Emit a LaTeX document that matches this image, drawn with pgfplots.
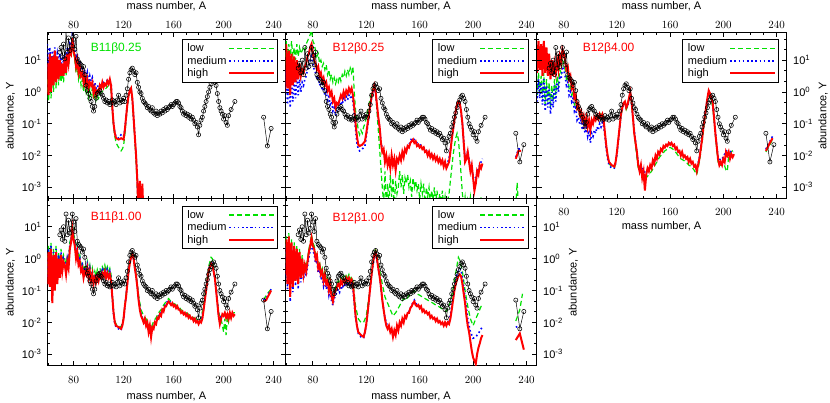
\documentclass[border=0pt]{standalone}
\usepackage{pgfplots}
\pgfplotsset{compat=1.18}
\usepackage{fontspec}
\setmainfont{Liberation Sans}
\definecolor{lowgreen}{RGB}{0,225,0}

\pgfplotsset{
  every axis/.append style={
    scale only axis,
    ymode=log, ymin=4.3e-4, ymax=74,
    xtick={80,120,160,200,240},
    minor xtick={60,70,...,250},
    ytick={1e-3,1e-2,1e-1,1,10},
    minor ytick={4.64e-4,2.15e-3,4.64e-3,2.15e-2,4.64e-2,0.215,0.464,2.15,4.64,21.5,46.4},
    tick align=inside,
    major tick length=5pt, minor tick length=2.5pt,
    axis line style={line width=1pt},
    tick style={black, line width=0.8pt},
    tick label style={font=\fontsize{11}{12}\selectfont, inner sep=0pt},
    label style={font=\fontsize{11}{12}\selectfont},
    unbounded coords=jump,
    legend cell align=left,
    legend plot pos=right,
    legend image post style={xscale=2.6},
    legend style={at={(0.97,0.96)}, anchor=north east, draw=black, line width=1pt,
      fill=white, font=\fontsize{11}{12}\selectfont, row sep=-1pt},
  },
  low line/.style={color=lowgreen, line width=1.2pt, dash pattern=on 5pt off 3pt},
  medium line/.style={color=blue, line width=1.6pt, dash pattern=on 1.6pt off 2.6pt},
  high line/.style={color=red, line width=2pt},
  obs line/.style={black, line width=0.5pt, mark=o, mark size=2.1pt,
    mark options={solid, line width=0.55pt}, forget plot},
}

\begin{document}
\begin{tikzpicture}
\path[use as bounding box] (0,0) rectangle (830pt,403pt);

% ---------- panel 1: B11 beta 0.25
\begin{axis}[at={(47.3pt,204pt)}, anchor=south west, width=238.2pt, height=166.5pt, xmin=59, xmax=249.5,
  xticklabel pos=right, xticklabel style={yshift=3.5pt},
  xlabel={mass number, A}, xlabel style={at={(axis description cs:0.5,1.16)}, anchor=center},
  yticklabels={10\textsuperscript{-3},10\textsuperscript{-2},10\textsuperscript{-1},10\textsuperscript{0},10\textsuperscript{1}},
  yticklabel pos=left, yticklabel style={xshift=-5.6pt},
  ylabel={abundance, Y}, ylabel style={at={(axis description cs:-0.155,0.5)}, anchor=center}]
\addplot[low line] coordinates {(59,2.5)(60,0.5)(61,6.3)(62,0.63)(63,7.9)(64,1.0)(65,10)(66,1.3)(67,7.9)(68,1.6)(69,6.3)(70,2.0)(71,5.0)(72,2.0)(73,7.9)(74,3.2)(75,10)(76,6.3)(77,16)(78,13)(79,40)(80,16)(81,10)(82,4.0)(83,6.3)(84,2.5)(85,4.0)(86,1.6)(87,2.5)(88,1.0)(89,2.0)(90,1.0)(91,1.6)(92,0.71)(93,1.3)(94,0.79)(95,1.3)(96,0.56)(97,0.89)(98,0.56)(99,0.79)(100,0.63)(102,1.0)(104,1.1)(106,1.3)(108,1.6)(110,1.1)(111,0.25)(112,0.079)(113,0.04)(114,0.025)(116,0.018)(118,0.014)(119,0.016)(120,0.02)(121,0.045)(122,0.13)(123,0.32)(124,0.71)(125,1.0)(126,1.3)(127,0.56)(128,0.13)(129,0.032)(130,0.0063)(131,0.001)(132,1e-4)};
\addlegendentry{low}
\addplot[medium line] coordinates {(59,32)(60,4.0)(61,25)(62,5.0)(63,20)(64,6.3)(65,25)(66,7.9)(67,16)(68,7.9)(69,16)(70,7.9)(71,13)(72,7.9)(73,16)(74,10)(75,25)(76,16)(77,32)(78,25)(79,63)(80,32)(81,20)(82,10)(83,16)(84,6.3)(85,10)(86,5.0)(87,6.3)(88,3.2)(89,5.0)(90,2.5)(91,4.0)(92,2.0)(93,3.2)(94,2.2)(95,2.8)(96,1.4)(97,2.0)(98,1.3)(99,1.6)(100,1.4)(102,1.8)(104,2.0)(106,2.2)(108,2.5)(110,2.0)(111,0.32)(112,0.1)(113,0.05)(114,0.04)(116,0.035)(118,0.045)(120,0.04)(121,0.063)(122,0.16)(123,0.4)(124,0.79)(125,1.1)(126,1.3)(127,0.63)(128,0.16)(129,0.04)(130,0.01)(131,0.0016)(132,1e-4)};
\addlegendentry{medium}
\addplot[high line] coordinates {(59,7.9)(60,0.79)(61,16)(62,1.0)(63,13)(64,1.6)(65,20)(66,2.0)(67,13)(68,2.5)(69,10)(70,3.2)(71,7.9)(72,3.2)(73,13)(74,4.0)(75,16)(76,7.9)(77,20)(78,16)(79,50)(80,20)(81,13)(82,6.3)(83,10)(84,4.0)(85,6.3)(86,3.2)(87,4.0)(88,2.0)(89,3.2)(90,1.6)(91,2.5)(92,1.3)(93,2.0)(94,1.6)(95,2.0)(96,0.89)(97,1.3)(98,0.79)(99,1.1)(100,1.0)(101,1.6)(102,1.3)(103,2.0)(104,1.4)(105,1.8)(106,1.6)(107,2.2)(108,1.8)(109,2.5)(110,1.6)(111,0.32)(112,0.1)(113,0.05)(114,0.035)(116,0.032)(118,0.035)(120,0.032)(121,0.063)(122,0.16)(123,0.4)(124,0.79)(125,1.1)(126,1.3)(127,0.63)(128,0.16)(129,0.04)(130,0.01)(131,0.0016)(132,1e-4)(133,0.0016)(134,1e-4)(135,0.0013)(136,1e-4)};
\addlegendentry{high}
\addplot[obs line] coordinates {(69,17.7)(70,25)(71,12.6)(72,32)(73,11)(74,79)(75,17.7)(76,50)(77,20)(78,28)(79,79)(80,45)(81,22)(82,56)(83,11)(84,8.9)(85,7.9)(86,7.1)(87,5.0)(88,6.3)(89,3.5)(90,1.6)(91,1.1)(92,0.89)(93,0.63)(94,0.50)(95,0.35)(96,0.25)(97,0.35)(98,0.63)(99,0.89)(100,1.0)(101,1.1)(102,0.89)(103,0.79)(104,0.63)(105,0.50)(106,0.56)(107,0.45)(108,0.50)(109,0.40)(110,0.45)(111,0.56)(112,0.45)(113,0.50)(114,0.40)(115,0.56)(116,0.79)(117,0.45)(118,0.56)(119,0.50)(120,0.63)(121,0.50)(122,0.79)(123,1.26)(124,2.5)(125,4.0)(126,5.0)(127,5.6)(128,4.5)(129,3.5)(130,4.0)(131,2.0)(132,1.4)(133,1.0)(134,0.89)(135,0.63)(136,0.50)(137,0.45)(138,0.40)(139,0.32)(140,0.35)(141,0.28)(142,0.25)(143,0.32)(144,0.22)(145,0.20)(146,0.25)(147,0.18)(148,0.22)(149,0.20)(150,0.25)(151,0.22)(152,0.28)(153,0.25)(154,0.32)(155,0.28)(156,0.32)(157,0.35)(158,0.40)(159,0.35)(160,0.40)(161,0.45)(162,0.50)(163,0.50)(164,0.45)(165,0.35)(166,0.32)(167,0.25)(168,0.20)(169,0.22)(170,0.18)(171,0.20)(172,0.16)(173,0.18)(174,0.14)(175,0.16)(176,0.13)(177,0.10)(178,0.11)(179,0.079)(180,0.045)(181,0.089)(182,0.13)(183,0.16)(184,0.25)(185,0.35)(186,0.50)(187,0.71)(188,1.0)(189,1.4)(190,1.8)(191,2.2)(192,2.5)(193,2.0)(194,1.6)(195,0.89)(196,0.50)(197,0.32)(198,0.25)(199,0.20)(200,0.14)(201,0.18)(202,0.11)(203,0.089)(204,0.18)(206,0.28)(209,0.50)(220,nan)(232,0.16)(235,0.020)(238,0.071)};
\node[anchor=west, font=\fontsize{12}{14}\selectfont, text=lowgreen] at (axis description cs:0.168,0.907) {B11β0.25};
\end{axis}

% ---------- panel 2: B12 beta 0.25
\begin{axis}[at={(285.5pt,204pt)}, anchor=south west, width=251pt, height=166.5pt, xmin=59.5, xmax=247.5,
  xticklabel pos=right, xticklabel style={yshift=3.5pt},
  xlabel={mass number, A}, xlabel style={at={(axis description cs:0.5,1.16)}, anchor=center},
  yticklabels={}]
\addplot[low line] coordinates {(58,32)(59,6.3)(60,40)(61,7.9)(62,32)(63,10)(64,40)(65,13)(66,25)(67,10)(68,32)(69,13)(70,25)(71,16)(72,20)(73,25)(74,20)(75,32)(76,40)(77,50)(78,63)(79,89)(80,40)(81,32)(82,20)(83,13)(84,16)(85,7.9)(86,10)(87,6.3)(88,7.9)(89,5.0)(90,7.1)(91,3.5)(92,5.0)(93,2.5)(94,3.5)(95,2.0)(96,2.8)(97,1.8)(98,2.5)(99,2.0)(100,3.2)(101,2.2)(102,3.5)(103,2.8)(104,4.5)(105,3.2)(106,5.0)(107,3.5)(108,5.6)(109,4.0)(110,6.3)(111,1.0)(112,0.25)(113,0.13)(114,0.063)(115,0.045)(116,0.063)(117,0.05)(118,0.079)(119,0.1)(120,0.16)(121,0.25)(122,0.4)(123,0.63)(124,1.0)(125,1.3)(126,1.6)(127,1.0)(128,0.25)(129,0.063)(130,0.016)(131,0.004)(132,0.001)(133,3.2e-4)(134,0.0032)(135,2.5e-4)(136,0.0013)(137,3.2e-4)(138,0.0025)(139,5e-4)(140,0.002)(141,2.5e-4)(142,0.0016)(143,6.3e-4)(144,0.001)(145,0.0032)(146,0.001)(147,0.0025)(148,6.3e-4)(149,0.002)(150,0.0013)(151,0.0025)(152,0.001)(153,0.0016)(154,5e-4)(155,0.002)(156,0.001)(157,0.0016)(158,7.9e-4)(159,0.0013)(160,4e-4)(161,0.0013)(162,6.3e-4)(163,0.0013)(164,2.5e-4)(165,0.001)(166,5e-4)(167,0.001)(168,3.2e-4)(169,7.9e-4)(170,4e-4)(171,0.001)(172,3.2e-4)(173,7.9e-4)(174,2.5e-4)(175,6.3e-4)(176,3.2e-4)(177,7.9e-4)(178,2.5e-4)(179,5e-4)(180,1.6e-4)(181,4e-4)(182,6.3e-4)(183,0.0016)(184,0.004)(185,0.01)(186,0.02)(187,0.035)(188,0.05)(189,0.032)(190,0.01)(191,0.0025)(192,6.3e-4)(193,2.5e-4)(194,5e-4)(195,1.6e-4)(196,4e-4)(197,2.5e-4)(198,5e-4)(199,1.6e-4)(200,3.2e-4)(201,1e-4)(202,2.5e-4)(203,1e-4)(204,4e-4)(205,1.3e-4)(206,5e-4)(207,2.5e-4)(220,nan)(232,2.5e-4)(233,0.0014)(234,2.5e-4)};
\addlegendentry{low}
\addplot[medium line] coordinates {(58,4.0)(59,0.5)(60,5.0)(61,0.4)(62,4.0)(63,0.32)(64,3.2)(65,0.5)(66,2.5)(67,0.63)(68,3.2)(69,0.79)(70,2.5)(71,1.0)(72,2.0)(73,1.6)(74,2.5)(75,3.2)(76,5.0)(77,6.3)(78,10)(79,13)(80,7.9)(81,5.0)(82,4.0)(83,2.5)(84,3.2)(85,1.6)(86,2.0)(87,1.1)(88,1.4)(89,0.79)(90,1.0)(91,0.56)(92,0.71)(93,0.4)(94,0.5)(95,0.25)(96,0.32)(97,0.18)(98,0.25)(99,0.25)(100,0.35)(101,0.5)(102,0.4)(103,0.63)(104,0.5)(105,0.71)(106,0.56)(107,0.79)(108,0.63)(109,0.79)(110,0.5)(111,0.2)(112,0.063)(113,0.025)(114,0.016)(115,0.014)(117,0.016)(119,0.02)(120,0.04)(121,0.079)(122,0.18)(123,0.35)(124,0.63)(125,1.0)(126,1.4)(127,0.89)(128,0.35)(129,0.14)(130,0.079)(131,0.028)(132,0.016)(134,0.0079)(136,0.0063)(138,0.005)(140,0.0063)(142,0.0045)(144,0.0079)(146,0.0089)(148,0.011)(150,0.016)(152,0.022)(154,0.035)(156,0.032)(158,0.025)(160,0.022)(162,0.02)(164,0.016)(166,0.013)(168,0.011)(170,0.01)(172,0.0089)(174,0.0079)(176,0.0071)(178,0.0056)(180,0.005)(182,0.0079)(184,0.035)(186,0.14)(188,0.4)(189,0.5)(190,0.45)(192,0.1)(194,0.0079)(196,0.014)(198,0.004)(200,0.0025)(202,0.002)(204,0.004)(206,0.0063)(207,0.0079)(220,nan)(232,0.0089)(234,0.016)(236,0.016)};
\addlegendentry{medium}
\addplot[high line] coordinates {(58,25)(59,1.0)(60,32)(61,1.3)(62,20)(63,0.79)(64,16)(65,1.6)(66,13)(67,2.0)(68,10)(69,2.5)(70,7.9)(71,3.2)(72,5.0)(73,4.0)(74,6.3)(75,7.9)(76,13)(77,16)(78,25)(79,32)(80,16)(81,10)(82,7.9)(83,5.0)(84,6.3)(85,3.2)(86,4.0)(87,2.2)(88,2.8)(89,1.6)(90,2.0)(91,1.1)(92,1.4)(93,0.79)(94,1.0)(95,0.5)(96,0.63)(97,0.32)(98,0.45)(99,0.4)(100,0.56)(101,0.79)(102,0.63)(103,1.0)(104,0.71)(105,1.1)(106,0.89)(107,1.3)(108,1.0)(109,1.3)(110,0.79)(111,0.32)(112,0.1)(113,0.04)(114,0.022)(115,0.02)(117,0.022)(119,0.028)(120,0.05)(121,0.1)(122,0.2)(123,0.4)(124,0.71)(125,1.1)(126,1.6)(127,1.0)(128,0.4)(129,0.16)(130,0.079)(131,0.025)(132,0.013)(133,0.016)(134,0.0063)(135,0.01)(136,0.005)(137,0.0079)(138,0.004)(139,0.01)(140,0.005)(141,0.0079)(142,0.0035)(143,0.0079)(144,0.0063)(145,0.01)(146,0.0071)(147,0.013)(148,0.0089)(149,0.016)(150,0.013)(151,0.02)(152,0.018)(153,0.025)(154,0.028)(155,0.032)(156,0.025)(157,0.028)(158,0.02)(159,0.022)(160,0.018)(161,0.02)(162,0.016)(163,0.018)(164,0.013)(165,0.014)(166,0.01)(167,0.013)(168,0.0089)(169,0.011)(170,0.0079)(171,0.01)(172,0.0071)(173,0.0089)(174,0.0063)(175,0.0079)(176,0.0056)(177,0.0071)(178,0.0045)(179,0.0063)(180,0.004)(181,0.005)(182,0.0063)(183,0.013)(184,0.032)(185,0.063)(186,0.13)(187,0.25)(188,0.4)(189,0.5)(190,0.45)(191,0.25)(192,0.1)(193,0.025)(194,0.0063)(195,0.0079)(196,0.013)(197,0.0063)(198,0.0032)(199,0.005)(200,0.002)(201,7.9e-4)(202,0.0013)(203,0.0032)(204,0.0025)(205,0.005)(206,0.004)(207,0.0056)(220,nan)(232,0.0079)(234,0.014)(236,0.014)};
\addlegendentry{high}
\addplot[obs line] coordinates {(69,5.6)(70,7.9)(71,4.0)(72,10)(73,3.5)(74,25)(75,5.6)(76,16)(77,6.3)(78,8.9)(79,25)(80,14)(81,7.1)(82,18)(83,3.5)(84,2.8)(85,2.5)(86,2.2)(87,1.6)(88,2.0)(89,1.1)(90,0.50)(91,0.35)(92,0.28)(93,0.20)(94,0.16)(95,0.11)(96,0.079)(97,0.11)(98,0.20)(99,0.28)(100,0.32)(101,0.35)(102,0.28)(103,0.25)(104,0.20)(105,0.16)(106,0.18)(107,0.14)(108,0.16)(109,0.13)(110,0.14)(111,0.18)(112,0.14)(113,0.16)(114,0.13)(115,0.18)(116,0.25)(117,0.14)(118,0.18)(119,0.16)(120,0.20)(121,0.16)(122,0.25)(123,0.40)(124,0.79)(125,1.26)(126,1.6)(127,1.8)(128,1.4)(129,1.1)(130,1.26)(131,0.63)(132,0.45)(133,0.32)(134,0.28)(135,0.20)(136,0.16)(137,0.14)(138,0.13)(139,0.10)(140,0.11)(141,0.089)(142,0.079)(143,0.10)(144,0.071)(145,0.063)(146,0.079)(147,0.056)(148,0.071)(149,0.063)(150,0.079)(151,0.071)(152,0.089)(153,0.079)(154,0.10)(155,0.089)(156,0.10)(157,0.11)(158,0.13)(159,0.11)(160,0.13)(161,0.14)(162,0.16)(163,0.16)(164,0.14)(165,0.11)(166,0.10)(167,0.079)(168,0.063)(169,0.071)(170,0.056)(171,0.063)(172,0.050)(173,0.056)(174,0.045)(175,0.050)(176,0.040)(177,0.032)(178,0.035)(179,0.025)(180,0.014)(181,0.028)(182,0.040)(183,0.050)(184,0.079)(185,0.11)(186,0.16)(187,0.22)(188,0.32)(189,0.45)(190,0.56)(191,0.71)(192,0.79)(193,0.63)(194,0.50)(195,0.28)(196,0.16)(197,0.10)(198,0.079)(199,0.063)(200,0.045)(201,0.056)(202,0.035)(203,0.028)(204,0.056)(206,0.089)(209,0.16)(220,nan)(232,0.050)(235,0.0063)(238,0.022)};
\node[anchor=west, font=\fontsize{12}{14}\selectfont, text=red] at (axis description cs:0.174,0.907) {B12β0.25};
\end{axis}

% ---------- panel 3: B12 beta 4.00
\begin{axis}[at={(536.5pt,204pt)}, anchor=south west, width=250pt, height=166.5pt, xmin=59.5, xmax=247.5,
  xticklabel pos=right, xticklabel style={yshift=3.5pt},
  xlabel={mass number, A}, xlabel style={at={(axis description cs:0.5,1.16)}, anchor=center},
  yticklabels={10\textsuperscript{-3},10\textsuperscript{-2},10\textsuperscript{-1},10\textsuperscript{0},10\textsuperscript{1}},
  yticklabel pos=right, yticklabel style={xshift=6.5pt},
  ylabel={abundance, Y}, ylabel style={at={(axis description cs:1.146,0.5)}, anchor=center}]
\addplot[low line] coordinates {(59,5.0)(60,0.79)(61,4.0)(62,1.0)(63,3.2)(64,0.63)(65,4.0)(66,0.4)(67,2.5)(68,0.5)(69,2.0)(70,0.32)(71,1.6)(72,0.5)(73,2.5)(74,0.79)(75,3.2)(76,1.6)(77,5.0)(78,4.0)(79,10)(80,7.9)(81,5.0)(82,2.5)(83,3.2)(84,1.3)(85,1.6)(86,0.79)(87,1.0)(88,0.4)(89,0.5)(90,0.25)(91,0.32)(92,0.18)(93,0.22)(94,0.13)(95,0.16)(96,0.1)(97,0.14)(98,0.089)(99,0.13)(100,0.079)(101,0.13)(102,0.11)(103,0.18)(104,0.14)(105,0.2)(106,0.16)(107,0.22)(108,0.18)(109,0.22)(110,0.14)(111,0.045)(112,0.018)(113,0.0089)(114,0.0056)(116,0.0045)(118,0.004)(119,0.0056)(120,0.011)(121,0.028)(122,0.071)(123,0.18)(124,0.28)(125,0.4)(126,0.45)(127,0.28)(128,0.35)(129,0.56)(130,0.89)(131,0.45)(132,0.14)(134,0.02)(136,0.004)(138,0.0035)(140,0.0025)(142,0.002)(144,0.0025)(146,0.0032)(148,0.0045)(150,0.0063)(152,0.0089)(154,0.011)(156,0.014)(158,0.016)(160,0.018)(162,0.016)(164,0.013)(166,0.01)(168,0.0079)(170,0.0071)(172,0.0063)(174,0.005)(176,0.0045)(178,0.0035)(180,0.0025)(182,0.0063)(184,0.025)(186,0.13)(188,0.5)(189,0.79)(190,0.71)(192,0.35)(194,0.045)(196,0.0063)(198,0.005)(200,0.0063)(202,0.0035)(203,0.0032)(204,0.01)(206,0.013)(208,0.016)(220,nan)(232,0.013)(235,0.022)(237,0.032)};
\addlegendentry{low}
\addplot[medium line] coordinates {(59,3.2)(60,0.5)(61,2.5)(62,0.63)(63,2.0)(64,0.4)(65,2.5)(66,0.25)(67,1.6)(68,0.32)(69,1.3)(70,0.2)(71,1.0)(72,0.32)(73,1.6)(74,0.5)(75,2.0)(76,1.0)(77,3.2)(78,2.5)(79,6.3)(80,5.0)(81,3.2)(82,1.6)(83,2.0)(84,0.79)(85,1.0)(86,0.5)(87,0.63)(88,0.25)(89,0.32)(90,0.13)(91,0.16)(92,0.1)(93,0.13)(94,0.063)(95,0.1)(96,0.05)(97,0.079)(98,0.04)(99,0.063)(100,0.025)(101,0.05)(102,0.04)(103,0.063)(104,0.05)(105,0.079)(106,0.063)(107,0.1)(108,0.079)(109,0.11)(110,0.079)(111,0.04)(112,0.016)(113,0.0079)(114,0.005)(116,0.004)(118,0.004)(119,0.0056)(120,0.011)(121,0.028)(122,0.071)(123,0.18)(124,0.28)(125,0.4)(126,0.45)(127,0.32)(128,0.35)(129,0.56)(130,0.89)(131,0.45)(132,0.16)(134,0.028)(136,0.0056)(138,0.005)(140,0.0032)(142,0.0028)(144,0.0035)(146,0.0045)(148,0.0063)(150,0.0089)(152,0.013)(154,0.016)(156,0.02)(158,0.022)(160,0.025)(162,0.022)(164,0.018)(166,0.014)(168,0.011)(170,0.01)(172,0.0089)(174,0.0071)(176,0.0063)(178,0.005)(180,0.0035)(182,0.0089)(184,0.035)(186,0.18)(188,0.56)(189,0.79)(190,0.79)(192,0.4)(194,0.056)(196,0.0089)(198,0.0071)(200,0.0089)(202,0.014)(204,0.014)(206,0.013)(208,0.013)(220,nan)(232,0.016)(235,0.028)(237,0.04)};
\addlegendentry{medium}
\addplot[high line] coordinates {(59,40)(60,4.0)(61,40)(62,5.0)(63,32)(64,3.2)(65,40)(66,4.0)(67,25)(68,3.2)(69,16)(70,2.5)(71,10)(72,3.2)(73,7.9)(74,4.0)(75,10)(76,5.0)(77,13)(78,7.9)(79,22)(80,16)(81,10)(82,5.0)(83,6.3)(84,2.5)(85,3.2)(86,1.3)(87,1.6)(88,0.63)(89,0.79)(90,0.32)(91,0.4)(92,0.2)(93,0.25)(94,0.13)(95,0.18)(96,0.1)(97,0.16)(98,0.079)(99,0.13)(100,0.063)(101,0.13)(102,0.1)(103,0.16)(104,0.13)(105,0.18)(106,0.14)(107,0.2)(108,0.16)(109,0.2)(110,0.13)(111,0.05)(112,0.02)(113,0.01)(114,0.0063)(116,0.005)(118,0.0045)(119,0.0063)(120,0.013)(121,0.032)(122,0.079)(123,0.2)(124,0.32)(125,0.45)(126,0.5)(127,0.32)(128,0.4)(129,0.63)(130,1.0)(131,0.5)(132,0.16)(133,0.05)(134,0.025)(135,0.013)(136,0.005)(137,0.0032)(138,0.005)(139,0.002)(140,0.0032)(141,7.9e-4)(142,0.0025)(143,0.004)(144,0.0032)(145,0.005)(146,0.004)(147,0.0071)(148,0.0056)(149,0.01)(150,0.0079)(151,0.013)(152,0.011)(153,0.016)(154,0.014)(155,0.02)(156,0.018)(157,0.022)(158,0.02)(159,0.025)(160,0.022)(161,0.025)(162,0.02)(163,0.022)(164,0.016)(165,0.018)(166,0.013)(167,0.014)(168,0.01)(169,0.013)(170,0.0089)(171,0.01)(172,0.0079)(173,0.0089)(174,0.0063)(175,0.0079)(176,0.0056)(177,0.0063)(178,0.0045)(179,0.005)(180,0.0032)(181,0.005)(182,0.0079)(183,0.016)(184,0.032)(185,0.079)(186,0.16)(187,0.32)(188,0.63)(189,1.1)(190,0.89)(191,0.63)(192,0.45)(193,0.16)(194,0.05)(195,0.02)(196,0.0079)(197,0.005)(198,0.0063)(199,0.005)(200,0.0079)(201,0.0063)(202,0.013)(203,0.01)(204,0.013)(205,0.0079)(206,0.011)(207,0.0089)(208,0.011)(220,nan)(232,0.014)(235,0.025)(237,0.035)};
\addlegendentry{high}
\addplot[obs line] coordinates {(69,5.6)(70,7.9)(71,4.0)(72,10)(73,3.5)(74,25)(75,5.6)(76,16)(77,6.3)(78,8.9)(79,25)(80,14)(81,7.1)(82,18)(83,3.5)(84,2.8)(85,2.5)(86,2.2)(87,1.6)(88,2.0)(89,1.1)(90,0.50)(91,0.35)(92,0.28)(93,0.20)(94,0.16)(95,0.11)(96,0.079)(97,0.11)(98,0.20)(99,0.28)(100,0.32)(101,0.35)(102,0.28)(103,0.25)(104,0.20)(105,0.16)(106,0.18)(107,0.14)(108,0.16)(109,0.13)(110,0.14)(111,0.18)(112,0.14)(113,0.16)(114,0.13)(115,0.18)(116,0.25)(117,0.14)(118,0.18)(119,0.16)(120,0.20)(121,0.16)(122,0.25)(123,0.40)(124,0.79)(125,1.26)(126,1.6)(127,1.8)(128,1.4)(129,1.1)(130,1.26)(131,0.63)(132,0.45)(133,0.32)(134,0.28)(135,0.20)(136,0.16)(137,0.14)(138,0.13)(139,0.10)(140,0.11)(141,0.089)(142,0.079)(143,0.10)(144,0.071)(145,0.063)(146,0.079)(147,0.056)(148,0.071)(149,0.063)(150,0.079)(151,0.071)(152,0.089)(153,0.079)(154,0.10)(155,0.089)(156,0.10)(157,0.11)(158,0.13)(159,0.11)(160,0.13)(161,0.14)(162,0.16)(163,0.16)(164,0.14)(165,0.11)(166,0.10)(167,0.079)(168,0.063)(169,0.071)(170,0.056)(171,0.063)(172,0.050)(173,0.056)(174,0.045)(175,0.050)(176,0.040)(177,0.032)(178,0.035)(179,0.025)(180,0.014)(181,0.028)(182,0.040)(183,0.050)(184,0.079)(185,0.11)(186,0.16)(187,0.22)(188,0.32)(189,0.45)(190,0.56)(191,0.71)(192,0.79)(193,0.63)(194,0.50)(195,0.28)(196,0.16)(197,0.10)(198,0.079)(199,0.063)(200,0.045)(201,0.056)(202,0.035)(203,0.028)(204,0.056)(206,0.089)(209,0.16)(220,nan)(232,0.050)(235,0.0063)(238,0.022)};
\node[anchor=west, font=\fontsize{12}{14}\selectfont, text=red] at (axis description cs:0.171,0.907) {B12β4.00};
\end{axis}
% bottom tick labels of panel 3
\begin{axis}[at={(536.5pt,204pt)}, anchor=south west, width=250pt, height=166.5pt, xmin=59.5, xmax=247.5,
  yticklabels={}, xticklabel pos=left, xticklabel style={yshift=-9pt},
  xlabel={mass number, A}, xlabel style={at={(axis description cs:0.5,-0.162)}, anchor=center}]
\addplot[draw=none, forget plot] coordinates {(100,1) (120,1)};
\end{axis}

% ---------- panel 4: B11 beta 1.00
\begin{axis}[at={(47.3pt,37pt)}, anchor=south west, width=238.2pt, height=167pt, xmin=59, xmax=249.5,
  xticklabel pos=left, xticklabel style={yshift=-10pt},
  xlabel={mass number, A}, xlabel style={at={(axis description cs:0.5,-0.183)}, anchor=center},
  yticklabels={10\textsuperscript{-3},10\textsuperscript{-2},10\textsuperscript{-1},10\textsuperscript{0},10\textsuperscript{1}},
  yticklabel pos=left, yticklabel style={xshift=-5.6pt},
  ylabel={abundance, Y}, ylabel style={at={(axis description cs:-0.155,0.5)}, anchor=center}]
\addplot[low line] coordinates {(58,3.2)(59,0.32)(60,2.5)(61,0.25)(62,3.2)(63,0.1)(64,2.0)(65,0.2)(66,2.5)(67,0.32)(68,1.6)(69,0.5)(70,2.0)(71,0.63)(72,1.3)(73,1.0)(74,0.5)(75,1.3)(76,0.79)(77,3.2)(78,5.0)(79,13)(80,6.3)(81,4.0)(82,1.6)(83,2.5)(84,1.0)(85,1.3)(86,0.63)(87,0.79)(88,0.4)(89,0.63)(90,0.5)(91,0.79)(92,0.4)(93,0.63)(94,0.32)(95,0.5)(96,0.25)(97,0.4)(98,0.28)(99,0.45)(100,0.32)(101,0.5)(102,0.4)(103,0.56)(104,0.45)(105,0.63)(106,0.4)(107,0.56)(108,0.4)(109,0.5)(110,0.32)(111,0.079)(112,0.022)(113,0.011)(114,0.0089)(116,0.0079)(118,0.0071)(120,0.014)(122,0.079)(124,0.5)(126,1.3)(127,1.6)(128,1.1)(130,0.35)(132,0.071)(134,0.025)(136,0.016)(138,0.013)(140,0.0079)(142,0.0063)(144,0.011)(146,0.014)(148,0.02)(150,0.025)(152,0.035)(154,0.045)(156,0.056)(158,0.045)(160,0.04)(162,0.035)(164,0.032)(166,0.025)(168,0.022)(170,0.02)(172,0.018)(174,0.016)(176,0.014)(178,0.013)(180,0.011)(182,0.014)(184,0.035)(186,0.14)(188,0.56)(190,1.1)(191,1.0)(192,0.56)(194,0.13)(196,0.02)(198,0.013)(200,0.005)(201,0.013)(202,0.004)(203,0.016)(204,0.01)(206,0.018)(208,0.02)(209,0.02)(220,nan)(232,0.05)(234,0.071)(236,0.089)(238,0.11)};
\addlegendentry{low}
\addplot[medium line] coordinates {(58,2.5)(59,0.25)(60,2.0)(61,0.2)(62,2.5)(63,0.063)(64,1.6)(65,0.16)(66,2.0)(67,0.25)(68,1.3)(69,0.4)(70,1.6)(71,0.5)(72,1.0)(73,0.79)(74,0.4)(75,1.0)(76,0.63)(77,2.5)(78,4.0)(79,10)(80,5.0)(81,3.2)(82,1.3)(83,2.0)(84,0.79)(85,1.0)(86,0.5)(87,0.63)(88,0.32)(89,0.5)(90,0.4)(91,0.63)(92,0.32)(93,0.5)(94,0.25)(95,0.4)(96,0.2)(97,0.32)(98,0.22)(99,0.35)(100,0.25)(101,0.4)(102,0.32)(103,0.45)(104,0.35)(105,0.5)(106,0.32)(107,0.45)(108,0.32)(109,0.4)(110,0.25)(111,0.063)(112,0.018)(113,0.0089)(114,0.0071)(116,0.0063)(118,0.0056)(120,0.013)(122,0.071)(124,0.45)(126,1.1)(127,1.3)(128,1.0)(130,0.32)(132,0.056)(134,0.018)(136,0.011)(138,0.0089)(140,0.0056)(142,0.0045)(144,0.0079)(146,0.011)(148,0.016)(150,0.02)(152,0.028)(154,0.04)(156,0.05)(158,0.04)(160,0.035)(162,0.032)(164,0.028)(166,0.022)(168,0.02)(170,0.018)(172,0.016)(174,0.014)(176,0.013)(178,0.011)(180,0.01)(182,0.011)(184,0.028)(186,0.11)(188,0.45)(190,0.79)(191,0.71)(192,0.45)(194,0.11)(196,0.018)(198,0.014)(200,0.018)(202,0.016)(204,0.014)(206,0.016)(208,0.018)(209,0.02)(220,nan)(232,0.05)(234,0.056)(236,0.079)(238,0.11)};
\addlegendentry{medium}
\addplot[high line] coordinates {(58,2.0)(59,0.16)(60,1.6)(61,0.13)(62,2.0)(63,0.04)(64,1.3)(65,0.1)(66,1.6)(67,0.16)(68,1.0)(69,0.25)(70,1.3)(71,0.4)(72,0.79)(73,0.63)(74,0.32)(75,0.79)(76,0.5)(77,2.0)(78,3.2)(79,8.9)(80,4.0)(81,2.5)(82,1.0)(83,1.6)(84,0.63)(85,0.79)(86,0.4)(87,0.5)(88,0.25)(89,0.4)(90,0.32)(91,0.5)(92,0.25)(93,0.4)(94,0.2)(95,0.32)(96,0.16)(97,0.25)(98,0.18)(99,0.28)(100,0.2)(101,0.32)(102,0.25)(103,0.35)(104,0.28)(105,0.4)(106,0.25)(107,0.35)(108,0.25)(109,0.32)(110,0.2)(111,0.063)(112,0.02)(113,0.01)(114,0.0079)(116,0.0071)(118,0.0063)(119,0.0079)(120,0.013)(121,0.032)(122,0.063)(123,0.16)(124,0.4)(125,0.71)(126,1.1)(127,1.4)(128,1.0)(129,0.5)(130,0.28)(131,0.13)(132,0.05)(133,0.025)(134,0.016)(135,0.013)(136,0.01)(137,0.013)(138,0.0079)(139,0.01)(140,0.005)(141,0.0079)(142,0.0035)(143,0.0071)(144,0.0063)(145,0.01)(146,0.0089)(147,0.014)(148,0.013)(149,0.018)(150,0.016)(151,0.025)(152,0.022)(153,0.032)(154,0.032)(155,0.04)(156,0.045)(157,0.04)(158,0.035)(159,0.04)(160,0.032)(161,0.035)(162,0.028)(163,0.032)(164,0.025)(165,0.025)(166,0.02)(167,0.022)(168,0.018)(169,0.02)(170,0.016)(171,0.018)(172,0.014)(173,0.016)(174,0.013)(175,0.014)(176,0.011)(177,0.013)(178,0.01)(179,0.011)(180,0.0089)(181,0.011)(182,0.01)(183,0.013)(184,0.025)(185,0.05)(186,0.1)(187,0.2)(188,0.4)(189,0.56)(190,0.71)(191,0.63)(192,0.4)(193,0.25)(194,0.1)(195,0.04)(196,0.016)(197,0.0089)(198,0.013)(199,0.018)(200,0.016)(201,0.02)(202,0.014)(203,0.018)(204,0.013)(205,0.02)(206,0.014)(207,0.02)(208,0.016)(209,0.018)(220,nan)(232,0.045)(234,0.05)(236,0.071)(238,0.1)};
\addlegendentry{high}
\addplot[obs line] coordinates {(69,5.6)(70,7.9)(71,4.0)(72,10)(73,3.5)(74,25)(75,5.6)(76,16)(77,6.3)(78,8.9)(79,25)(80,14)(81,7.1)(82,18)(83,3.5)(84,2.8)(85,2.5)(86,2.2)(87,1.6)(88,2.0)(89,1.1)(90,0.50)(91,0.35)(92,0.28)(93,0.20)(94,0.16)(95,0.11)(96,0.079)(97,0.11)(98,0.20)(99,0.28)(100,0.32)(101,0.35)(102,0.28)(103,0.25)(104,0.20)(105,0.16)(106,0.18)(107,0.14)(108,0.16)(109,0.13)(110,0.14)(111,0.18)(112,0.14)(113,0.16)(114,0.13)(115,0.18)(116,0.25)(117,0.14)(118,0.18)(119,0.16)(120,0.20)(121,0.16)(122,0.25)(123,0.40)(124,0.79)(125,1.26)(126,1.6)(127,1.8)(128,1.4)(129,1.1)(130,1.26)(131,0.63)(132,0.45)(133,0.32)(134,0.28)(135,0.20)(136,0.16)(137,0.14)(138,0.13)(139,0.10)(140,0.11)(141,0.089)(142,0.079)(143,0.10)(144,0.071)(145,0.063)(146,0.079)(147,0.056)(148,0.071)(149,0.063)(150,0.079)(151,0.071)(152,0.089)(153,0.079)(154,0.10)(155,0.089)(156,0.10)(157,0.11)(158,0.13)(159,0.11)(160,0.13)(161,0.14)(162,0.16)(163,0.16)(164,0.14)(165,0.11)(166,0.10)(167,0.079)(168,0.063)(169,0.071)(170,0.056)(171,0.063)(172,0.050)(173,0.056)(174,0.045)(175,0.050)(176,0.040)(177,0.032)(178,0.035)(179,0.025)(180,0.014)(181,0.028)(182,0.040)(183,0.050)(184,0.079)(185,0.11)(186,0.16)(187,0.22)(188,0.32)(189,0.45)(190,0.56)(191,0.71)(192,0.79)(193,0.63)(194,0.50)(195,0.28)(196,0.16)(197,0.10)(198,0.079)(199,0.063)(200,0.045)(201,0.056)(202,0.035)(203,0.028)(204,0.056)(206,0.089)(209,0.16)(220,nan)(232,0.050)(235,0.0063)(238,0.022)};
\node[anchor=west, font=\fontsize{12}{14}\selectfont, text=red] at (axis description cs:0.168,0.89) {B11β1.00};
\end{axis}

% ---------- panel 5: B12 beta 1.00
\begin{axis}[at={(285.5pt,37pt)}, anchor=south west, width=251pt, height=167pt, xmin=59.5, xmax=247.5,
  xticklabel pos=left, xticklabel style={yshift=-10pt},
  xlabel={mass number, A}, xlabel style={at={(axis description cs:0.5,-0.183)}, anchor=center},
  yticklabels={10\textsuperscript{-3},10\textsuperscript{-2},10\textsuperscript{-1},10\textsuperscript{0},10\textsuperscript{1}},
  yticklabel pos=right, yticklabel style={xshift=6.5pt},
  ylabel={abundance, Y}, ylabel style={at={(axis description cs:1.147,0.5)}, anchor=center}]
\addplot[low line] coordinates {(58,7.9)(59,0.4)(60,5.0)(61,0.2)(62,6.3)(63,0.079)(64,4.0)(65,0.16)(66,3.2)(67,0.25)(68,2.5)(69,0.2)(70,2.0)(71,0.32)(72,1.3)(73,0.4)(74,0.79)(75,0.5)(76,1.0)(77,2.0)(78,3.2)(79,5.6)(80,3.2)(81,2.5)(82,1.3)(83,1.6)(84,0.63)(85,0.79)(86,0.4)(87,0.5)(88,0.25)(89,0.4)(90,0.2)(91,0.25)(92,0.13)(93,0.2)(94,0.079)(95,0.063)(96,0.1)(97,0.13)(98,0.16)(99,0.2)(100,0.16)(101,0.25)(102,0.2)(103,0.28)(104,0.22)(105,0.32)(106,0.25)(107,0.32)(108,0.22)(109,0.28)(110,0.2)(111,0.079)(112,0.032)(114,0.013)(116,0.01)(118,0.01)(120,0.016)(122,0.063)(124,0.4)(126,1.6)(127,1.9)(128,1.3)(130,0.45)(132,0.16)(134,0.063)(136,0.04)(138,0.025)(140,0.016)(142,0.02)(144,0.028)(146,0.04)(148,0.056)(150,0.05)(152,0.071)(154,0.079)(156,0.1)(158,0.079)(160,0.071)(162,0.063)(164,0.056)(166,0.05)(168,0.045)(170,0.04)(172,0.035)(174,0.032)(176,0.028)(178,0.025)(180,0.022)(182,0.032)(184,0.063)(186,0.2)(188,0.63)(189,1.1)(190,0.89)(192,0.4)(194,0.1)(196,0.032)(198,0.013)(200,0.0079)(202,0.013)(204,0.02)(206,0.032)(207,0.035)(220,nan)(232,0.011)(235,0.025)(237,0.079)};
\addlegendentry{low}
\addplot[medium line] coordinates {(58,4.5)(59,0.22)(60,2.8)(61,0.11)(62,3.5)(63,0.045)(64,2.2)(65,0.089)(66,1.8)(67,0.14)(68,1.4)(69,0.11)(70,1.1)(71,0.18)(72,0.71)(73,0.22)(74,0.45)(75,0.28)(76,0.56)(77,1.1)(78,1.8)(79,3.2)(80,1.8)(81,1.4)(82,0.71)(83,0.89)(84,0.35)(85,0.45)(86,0.22)(87,0.28)(88,0.14)(89,0.22)(90,0.11)(91,0.14)(92,0.071)(93,0.11)(94,0.045)(95,0.035)(96,0.056)(97,0.071)(98,0.089)(99,0.11)(100,0.089)(101,0.14)(102,0.11)(103,0.16)(104,0.13)(105,0.18)(106,0.14)(107,0.18)(108,0.13)(109,0.16)(110,0.11)(111,0.04)(112,0.014)(114,0.0045)(116,0.0035)(118,0.0032)(120,0.0079)(122,0.05)(124,0.32)(126,1.1)(127,1.4)(128,0.89)(130,0.28)(132,0.05)(134,0.014)(136,0.0071)(138,0.0056)(140,0.004)(142,0.0045)(144,0.0063)(146,0.0089)(148,0.011)(150,0.016)(152,0.022)(154,0.035)(156,0.05)(158,0.035)(160,0.032)(162,0.025)(164,0.022)(166,0.02)(168,0.016)(170,0.014)(172,0.013)(174,0.011)(176,0.01)(178,0.0089)(180,0.0089)(182,0.01)(184,0.032)(186,0.13)(188,0.32)(190,0.5)(191,0.45)(192,0.25)(194,0.063)(196,0.013)(198,0.005)(200,0.0032)(202,0.0035)(204,0.0045)(206,0.0063)(207,0.0071)(220,nan)(232,0.0071)(235,0.0079)};
\addlegendentry{medium}
\addplot[high line] coordinates {(58,6.3)(59,0.32)(60,4.0)(61,0.16)(62,5.0)(63,0.063)(64,3.2)(65,0.13)(66,2.5)(67,0.2)(68,2.0)(69,0.16)(70,1.6)(71,0.25)(72,1.0)(73,0.32)(74,0.63)(75,0.4)(76,0.79)(77,1.6)(78,2.5)(79,4.5)(80,2.5)(81,2.0)(82,1.0)(83,1.3)(84,0.5)(85,0.63)(86,0.32)(87,0.4)(88,0.2)(89,0.32)(90,0.16)(91,0.2)(92,0.1)(93,0.16)(94,0.063)(95,0.045)(96,0.079)(97,0.1)(98,0.13)(99,0.16)(100,0.13)(101,0.2)(102,0.16)(103,0.22)(104,0.18)(105,0.25)(106,0.2)(107,0.25)(108,0.18)(109,0.22)(110,0.16)(111,0.05)(112,0.016)(113,0.0079)(114,0.005)(116,0.004)(118,0.0035)(119,0.005)(120,0.0089)(121,0.02)(122,0.05)(123,0.13)(124,0.32)(125,0.71)(126,1.3)(127,1.6)(128,1.0)(129,0.5)(130,0.28)(131,0.13)(132,0.05)(133,0.025)(134,0.013)(135,0.0079)(136,0.0063)(137,0.0079)(138,0.005)(139,0.0063)(140,0.0035)(141,0.0056)(142,0.004)(143,0.0079)(144,0.0056)(145,0.01)(146,0.0079)(147,0.013)(148,0.01)(149,0.016)(150,0.014)(151,0.02)(152,0.02)(153,0.028)(154,0.032)(155,0.04)(156,0.045)(157,0.035)(158,0.032)(159,0.035)(160,0.028)(161,0.032)(162,0.022)(163,0.025)(164,0.02)(165,0.022)(166,0.018)(167,0.02)(168,0.014)(169,0.016)(170,0.013)(171,0.014)(172,0.011)(173,0.013)(174,0.01)(175,0.011)(176,0.0089)(177,0.01)(178,0.0079)(179,0.01)(180,0.0079)(181,0.01)(182,0.0089)(183,0.013)(184,0.025)(185,0.05)(186,0.1)(187,0.16)(188,0.22)(189,0.28)(190,0.32)(191,0.28)(192,0.16)(193,0.079)(194,0.04)(195,0.016)(196,0.0079)(197,0.005)(198,0.0025)(199,0.0013)(200,7.9e-4)(201,6.3e-4)(202,5e-4)(203,0.001)(204,0.0016)(205,0.0022)(206,0.0032)(207,0.004)(220,nan)(232,0.0028)(235,0.0045)(238,0.0014)};
\addlegendentry{high}
\addplot[obs line] coordinates {(69,5.6)(70,7.9)(71,4.0)(72,10)(73,3.5)(74,25)(75,5.6)(76,16)(77,6.3)(78,8.9)(79,25)(80,14)(81,7.1)(82,18)(83,3.5)(84,2.8)(85,2.5)(86,2.2)(87,1.6)(88,2.0)(89,1.1)(90,0.50)(91,0.35)(92,0.28)(93,0.20)(94,0.16)(95,0.11)(96,0.079)(97,0.11)(98,0.20)(99,0.28)(100,0.32)(101,0.35)(102,0.28)(103,0.25)(104,0.20)(105,0.16)(106,0.18)(107,0.14)(108,0.16)(109,0.13)(110,0.14)(111,0.18)(112,0.14)(113,0.16)(114,0.13)(115,0.18)(116,0.25)(117,0.14)(118,0.18)(119,0.16)(120,0.20)(121,0.16)(122,0.25)(123,0.40)(124,0.79)(125,1.26)(126,1.6)(127,1.8)(128,1.4)(129,1.1)(130,1.26)(131,0.63)(132,0.45)(133,0.32)(134,0.28)(135,0.20)(136,0.16)(137,0.14)(138,0.13)(139,0.10)(140,0.11)(141,0.089)(142,0.079)(143,0.10)(144,0.071)(145,0.063)(146,0.079)(147,0.056)(148,0.071)(149,0.063)(150,0.079)(151,0.071)(152,0.089)(153,0.079)(154,0.10)(155,0.089)(156,0.10)(157,0.11)(158,0.13)(159,0.11)(160,0.13)(161,0.14)(162,0.16)(163,0.16)(164,0.14)(165,0.11)(166,0.10)(167,0.079)(168,0.063)(169,0.071)(170,0.056)(171,0.063)(172,0.050)(173,0.056)(174,0.045)(175,0.050)(176,0.040)(177,0.032)(178,0.035)(179,0.025)(180,0.014)(181,0.028)(182,0.040)(183,0.050)(184,0.079)(185,0.11)(186,0.16)(187,0.22)(188,0.32)(189,0.45)(190,0.56)(191,0.71)(192,0.79)(193,0.63)(194,0.50)(195,0.28)(196,0.16)(197,0.10)(198,0.079)(199,0.063)(200,0.045)(201,0.056)(202,0.035)(203,0.028)(204,0.056)(206,0.089)(209,0.16)(220,nan)(232,0.050)(235,0.0063)(238,0.022)};
\node[anchor=west, font=\fontsize{12}{14}\selectfont, text=red] at (axis description cs:0.174,0.886) {B12β1.00};
\end{axis}

\end{tikzpicture}
\end{document}
